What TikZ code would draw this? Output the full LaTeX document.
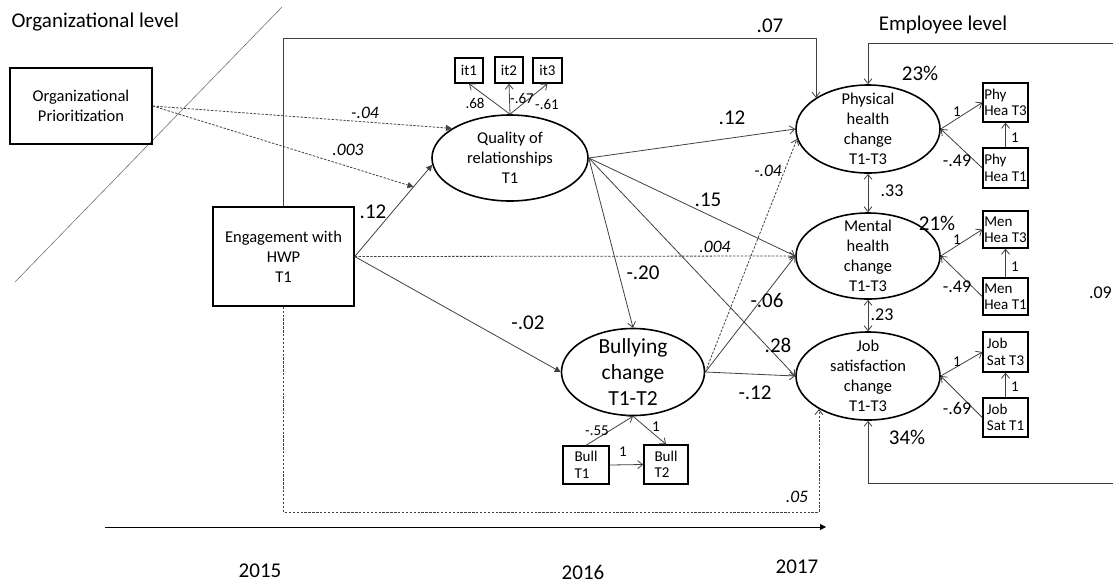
\documentclass[tikz,border=0pt]{standalone}
\usepackage{fontspec}
\setmainfont{Carlito}
\usetikzlibrary{shapes.geometric, arrows.meta}

\tikzset{
	obs/.style={draw, line width=1.4pt, inner sep=0pt, align=center, font=\fontsize{16.5}{20}\selectfont},
	lat/.style={draw, ellipse, line width=1.6pt, inner xsep=0pt, inner ysep=-14pt, minimum width=144pt, minimum height=88pt, align=center, font=\fontsize{16.5}{20}\selectfont},
	ind/.style={draw, line width=1.4pt, inner sep=0pt, align=left, font=\fontsize{15}{16.5}\selectfont},
	pth/.style={draw=black!75, line width=0.8pt, -{Straight Barb[length=5pt,width=8pt]}},
	fpth/.style={draw=black!75, line width=0.8pt, -{Triangle[length=6pt,width=6pt]}},
	dotd/.style={dash pattern=on 2.4pt off 1.5pt},
	big/.style={font=\fontsize{21}{24}\selectfont},
	est/.style={font=\fontsize{18}{20}\selectfont},
	ital/.style={font=\fontsize{17.5}{20}\selectfont\itshape},
	sml/.style={font=\fontsize{15}{16}\selectfont},
}

\begin{document}
\begin{tikzpicture}[x=1pt, y=-1pt]
	\useasboundingbox (0,0) rectangle (1113,584);

	% levels
	\draw[black!55, line width=0.6pt] (282,7) -- (15,282);
	\node[big, anchor=west] (orglev) at (8,22) {Organizational level};
	\node[big] (emplev) at (943,25) {Employee level};

	% observed and latent variables
	\node[obs, minimum width=142pt, minimum height=76pt] (org) at (81,106) {Organizational\\Prioritization};
	\node[obs, minimum width=141pt, minimum height=99pt] (eng) at (283.5,256.5) {Engagement with\\HWP\\T1};

	\node[lat, minimum width=156pt, minimum height=86pt] (qr) at (510,158) {Quality of\\relationships\\T1};
	\node[lat, minimum width=143pt, minimum height=87pt, font=\fontsize{21.5}{26}\selectfont] (bul) at (633,372) {Bullying\\change\\T1-T2};
	\node[lat] (phy) at (868,129) {Physical\\health\\change\\T1-T3};
	\node[lat, minimum height=86pt] (men) at (868,256) {Mental\\health\\change\\T1-T3};
	\node[lat] (job) at (868,376) {Job\\satisfaction\\change\\T1-T3};

	\node[ind, minimum width=28pt, minimum height=25pt] (it1) at (469,70.5) {it1};
	\node[ind, minimum width=28pt, minimum height=26pt] (it2) at (509,70) {it2};
	\node[ind, minimum width=29pt, minimum height=25pt] (it3) at (547.5,70.5) {it3};

	\node[ind, minimum width=46pt, minimum height=38pt] (bt1) at (586,465) {Bull\\T1};
	\node[ind, minimum width=44pt, minimum height=39pt] (bt2) at (666,464.5) {Bull\\T2};

	\node[ind, minimum width=45pt, minimum height=39pt] (ph3) at (1005.5,102.5) {Phy\\Hea T3};
	\node[ind, minimum width=45pt, minimum height=40pt] (ph1) at (1005.5,168) {Phy\\Hea T1};
	\node[ind, minimum width=45pt, minimum height=37pt] (mh3) at (1005.5,229.5) {Men\\Hea T3};
	\node[ind, minimum width=45pt, minimum height=37pt] (mh1) at (1005.5,296.5) {Men\\Hea T1};
	\node[ind, minimum width=45pt, minimum height=40pt] (js3) at (1005.5,352) {Job\\Sat T3};
	\node[ind, minimum width=45pt, minimum height=39pt] (js1) at (1005.5,417.5) {Job\\Sat T1};

	\coordinate (toprail) at (0,38);
	\coordinate (botrail) at (0,512);
	\coordinate (rtop) at (1113,43);
	\coordinate (rbot) at (1113,483);
	\coordinate (t0) at (105,527);
	\coordinate (t1) at (826,527);
	\path (eng.east) -- (qr.185) coordinate[pos=0.76] (mod);

	% paths
	\draw[pth] (eng.north) |- (phy.149 |- toprail) -- (phy.149);
	\draw[pth, dotd] (eng.south) |- (job.214 |- botrail) -- (job.214);
	\draw[pth] (rtop) -| (phy.north);
	\draw[pth] (rbot) -| (job.south);

	\draw[fpth] (eng.east) -- (qr.185);
	\draw[fpth] (eng.east) -- (bul.west);
	\draw[pth, dotd] (eng.east) -- (men.west);
	\draw[fpth, dotd] (org.east) -- (qr.153);
	\draw[fpth, dotd] (org.east) -- (mod);

	\draw[pth] (qr.east) -- (phy.west);
	\draw[pth] (qr.east) -- (men.west);
	\draw[pth] (qr.east) -- (bul.north);
	\draw[pth] (qr.east) -- (job.west);

	\draw[pth, dotd] (bul.east) -- (phy.188);
	\draw[pth] (bul.east) -- (men.west);
	\draw[pth] (bul.east) -- (job.west);

	\foreach \i in {1,2,3}
		\draw[pth] (qr.north) -- (it\i.south);

	\draw[pth] (bt1.north) -- (bul.south);
	\draw[pth] (bul.south) -- (bt2.north);
	\draw[pth] (bt1.east) -- (bt2.west);

	\draw[pth, {Straight Barb[length=5pt,width=8pt]}-{Straight Barb[length=5pt,width=8pt]}] (phy.south) -- (men.north);
	\draw[pth, {Straight Barb[length=5pt,width=8pt]}-{Straight Barb[length=5pt,width=8pt]}] (men.south) -- (job.north);

	\foreach \v/\n in {phy/ph, men/mh, job/js}{
		\draw[pth] (\v.east) -- (\n3.west);
		\draw[pth] (\n1.west) -- (\v.east);
		\draw[pth] (\n1.north) -- (\n3.south);
	}

	\draw[fpth, black] (t0) -- (t1);

	% estimates
	\node[big] (l07) at (770,26) {.07};
	\node[big] (l12a) at (373,212) {.12};
	\node[big] (l02) at (528,323) {-.02};
	\node[big] (l12b) at (732,118) {.12};
	\node[big] (l15) at (708,200) {.15};
	\node[big] (l20) at (643,273) {-.20};
	\node[big] (l28) at (778,345) {.28};
	\node[big] (l06) at (767,300) {-.06};
	\node[big] (l12c) at (755,393) {-.12};
	\node[ital] (lo04) at (365,113) {-.04};
	\node[ital] (lo003) at (348,150) {.003};
	\node[ital] (l004) at (715,247) {.004};
	\node[ital] (lb04) at (768,171) {-.04};
	\node[ital] (l05) at (797,497) {.05};

	\node[sml] (l68) at (475,103) {.68};
	\node[sml] (l67) at (522,98) {-.67};
	\node[sml] (l61) at (547,104) {-.61};
	\node[sml] (l55) at (597,431) {-.55};
	\node[sml] (lb1) at (656,427) {1};
	\node[sml] (lb2) at (623,452) {1};

	\node[est] (l33) at (892,191) {.33};
	\node[est] (l23) at (882,315) {.23};
	\node[est, anchor=east, inner xsep=1pt] (l09) at (1113,293) {.09};

	\node[sml] (lp1) at (957,112) {1};
	\node[est] (lp49) at (957,161) {-.49};
	\node[sml] (lp1v) at (1015,138) {1};
	\node[sml] (lm1) at (957,240) {1};
	\node[est] (lm49) at (957,287) {-.49};
	\node[sml] (lm1v) at (1015,267) {1};
	\node[sml] (lj1) at (957,362) {1};
	\node[est] (lj69) at (957,408) {-.69};
	\node[sml] (lj1v) at (1015,387) {1};

	\node[big] (r23) at (920,73) {23\%};
	\node[big] (r21) at (937,223) {21\%};
	\node[big] (r34) at (907,437) {34\%};

	% years
	\node[big] (y15) at (260,571) {2015};
	\node[big] (y16) at (583,572) {2016};
	\node[big] (y17) at (797,567) {2017};
\end{tikzpicture}
\end{document}
